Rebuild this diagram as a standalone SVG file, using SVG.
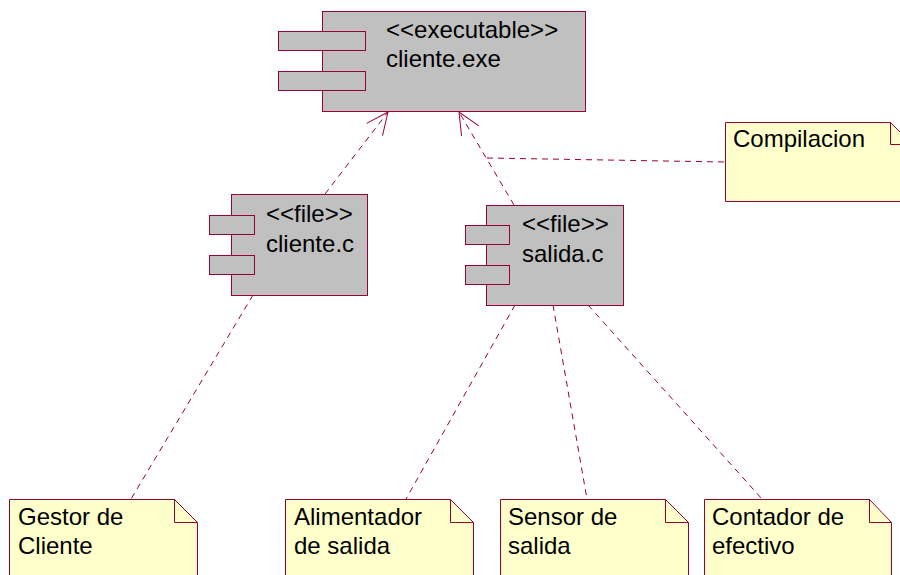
<svg xmlns="http://www.w3.org/2000/svg" width="900" height="575" viewBox="0 0 900 575">
<defs>
<style>
.comp{fill:#C0C0C0;stroke:#990033;stroke-width:1}
.note{fill:#FFFFCC;stroke:#990033;stroke-width:1}
.fold{fill:none;stroke:#990033;stroke-width:1}
.dep{fill:none;stroke:#990033;stroke-width:1;stroke-dasharray:6,5}
text{font-family:"Liberation Sans",Arial,sans-serif;font-size:24px;fill:#000}
</style>
<marker id="open" markerUnits="userSpaceOnUse" markerWidth="30" markerHeight="30" refX="0" refY="0" viewBox="-25 -15 30 30" orient="auto" overflow="visible">
<path d="M-22,-10 L0,0 L-22,10" fill="none" stroke="#990033" stroke-width="1"/>
</marker>
</defs>
<rect width="900" height="575" fill="#FFFFFF"/>
<g id="connectors">
<line class="dep" x1="325" y1="194" x2="388" y2="112" marker-end="url(#open)"/>
<line class="dep" x1="514" y1="205" x2="459" y2="112" marker-end="url(#open)"/>
<line class="dep" x1="487" y1="158" x2="725" y2="162"/>
<line class="dep" x1="253" y1="295" x2="131" y2="499"/>
<line class="dep" x1="515" y1="305" x2="406" y2="499"/>
<line class="dep" x1="553" y1="305" x2="587" y2="499"/>
<line class="dep" x1="588" y1="305" x2="762" y2="499"/>
</g>
<g id="cliente_exe">
<rect class="comp" x="322.5" y="11.5" width="263" height="100"/>
<rect class="comp" x="278.5" y="31.5" width="87" height="19"/>
<rect class="comp" x="278.5" y="71.5" width="87" height="19"/>
<text x="386" y="38">&lt;&lt;executable&gt;&gt;</text>
<text x="386" y="67">cliente.exe</text>
</g>
<g id="cliente_c">
<rect class="comp" x="231.5" y="194.5" width="136" height="101"/>
<rect class="comp" x="209.5" y="215.5" width="45" height="19"/>
<rect class="comp" x="209.5" y="255.5" width="45" height="19"/>
<text x="266" y="222">&lt;&lt;file&gt;&gt;</text>
<text x="266" y="252">cliente.c</text>
</g>
<g id="salida_c">
<rect class="comp" x="486.5" y="205.5" width="137" height="100"/>
<rect class="comp" x="465.5" y="225.5" width="44" height="19"/>
<rect class="comp" x="465.5" y="265.5" width="44" height="19"/>
<text x="522" y="232">&lt;&lt;file&gt;&gt;</text>
<text x="522" y="262">salida.c</text>
</g>
<g id="compilacion">
<path class="note" d="M725.5,122.5 H890.5 L912.5,144.5 V201.5 H725.5 Z"/>
<path class="fold" d="M890.5,122.5 V144.5 H912.5"/>
<text x="733" y="147">Compilacion</text>
</g>
<g id="gestor">
<path class="note" d="M9.5,499.5 H174.5 L197.5,522.5 V590 H9.5 Z"/>
<path class="fold" d="M174.5,499.5 V522.5 H197.5"/>
<text x="18" y="525">Gestor de</text>
<text x="18" y="554">Cliente</text>
</g>
<g id="alimentador">
<path class="note" d="M285.5,499.5 H450.5 L473.5,522.5 V590 H285.5 Z"/>
<path class="fold" d="M450.5,499.5 V522.5 H473.5"/>
<text x="294" y="525">Alimentador</text>
<text x="294" y="554">de salida</text>
</g>
<g id="sensor">
<path class="note" d="M500.5,499.5 H665.5 L688.5,522.5 V590 H500.5 Z"/>
<path class="fold" d="M665.5,499.5 V522.5 H688.5"/>
<text x="508" y="525">Sensor de</text>
<text x="508" y="554">salida</text>
</g>
<g id="contador">
<path class="note" d="M704.5,499.5 H869.5 L891.5,522.5 V590 H704.5 Z"/>
<path class="fold" d="M869.5,499.5 V522.5 H891.5"/>
<text x="712" y="525">Contador de</text>
<text x="712" y="554">efectivo</text>
</g>
</svg>
